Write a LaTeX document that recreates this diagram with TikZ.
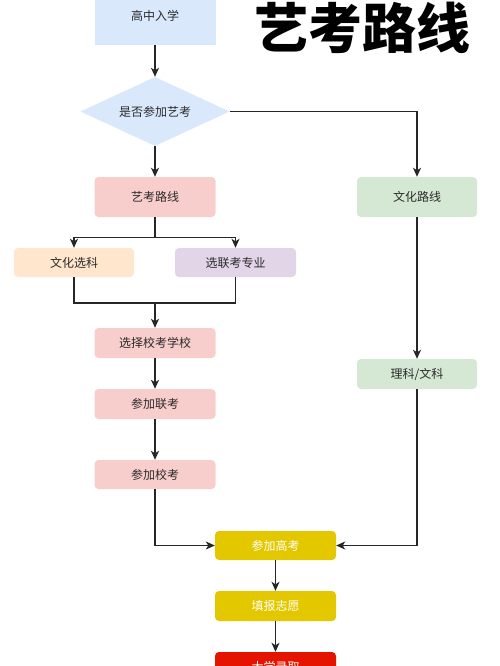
\documentclass[tikz,border=0pt]{standalone}
\usepackage{fontspec}
\setmainfont{Noto Sans CJK SC}
\usetikzlibrary{shapes.geometric,arrows.meta}
\definecolor{cblue}{HTML}{DAE8FC}
\definecolor{cred}{HTML}{F8CECC}
\definecolor{cgreen}{HTML}{D5E8D4}
\definecolor{corange}{HTML}{FFE6CC}
\definecolor{cpurple}{HTML}{E1D5E7}
\definecolor{cyellow}{HTML}{E3C800}
\definecolor{cdred}{HTML}{E51400}
\definecolor{ctext}{HTML}{2B2B2B}
\tikzset{
  box/.style={rectangle, rounded corners=4pt, minimum width=121pt, minimum height=30pt, inner sep=0pt, font=\fontsize{12pt}{14pt}\selectfont, text=ctext},
  conn/.style={draw=black!85, line width=1.3pt},
  arr/.style={conn, -{Stealth[length=9pt,width=8pt,inset=2.5pt]}},
}
\begin{document}
\begin{tikzpicture}[x=1pt,y=-1pt]
\clip (0,0) rectangle (500,666);
\fill[white] (0,0) rectangle (500,666);
% title
\node[font=\fontsize{54pt}{60pt}\selectfont\bfseries, text=black] (title) at (362.5,28) {艺考路线};
% nodes
\node[box, rounded corners=0pt, fill=cblue, minimum height=58pt] (top) at (155,16) {高中入学};
\node[diamond, fill=cblue, minimum width=149pt, minimum height=69pt, inner sep=0pt, shape aspect=2.16, font=\fontsize{12pt}{14pt}\selectfont, text=ctext] (dia) at (155,111.5) {是否参加艺考};
\node[box, fill=cred, minimum height=40pt] (art) at (155,197) {艺考路线};
\node[box, fill=cgreen, minimum width=120pt, minimum height=40pt] (cul) at (417,197) {文化路线};
\node[box, fill=corange, minimum width=120pt, minimum height=29pt] (wx) at (74,262.5) {文化选科};
\node[box, fill=cpurple, minimum height=29pt] (lk) at (235.5,262.5) {选联考专业};
\node[box, fill=cred] (xz) at (155,343) {选择校考学校};
\node[box, fill=cred] (lkk) at (155,404) {参加联考};
\node[box, fill=cred, minimum height=29pt] (xk) at (155,474.5) {参加校考};
\node[box, fill=cgreen, minimum width=120pt] (lw) at (417,374) {理科/文科};
\node[box, fill=cyellow, text=white, minimum height=29pt] (gk) at (275.5,545.5) {参加高考};
\node[box, fill=cyellow, text=white] (tb) at (275.5,606) {填报志愿};
\node[box, fill=cdred, text=white] (dx) at (275.5,667) {大学录取};
% connectors
\draw[arr] (top) -- (dia);
\draw[arr] (dia) -- (art);
\draw[arr] (dia.east) -| (cul.north);
\draw[conn] (art.south) -- ++(0,20) coordinate (j1);
\draw[arr] (j1) -| (wx.north);
\draw[arr] (j1) -| (lk.north);
\coordinate (j2) at (155,303);
\draw[conn] (wx.south) |- (j2) -| (lk.south);
\draw[arr] (j2) -- (xz.north);
\draw[arr] (xz) -- (lkk);
\draw[arr] (lkk) -- (xk);
\draw[arr] (xk.south) |- (gk.west);
\draw[arr] (cul) -- (lw);
\draw[arr] (lw.south) |- (gk.east);
\draw[arr] (gk) -- (tb);
\draw[arr] (tb) -- (dx);
\end{tikzpicture}
\end{document}
